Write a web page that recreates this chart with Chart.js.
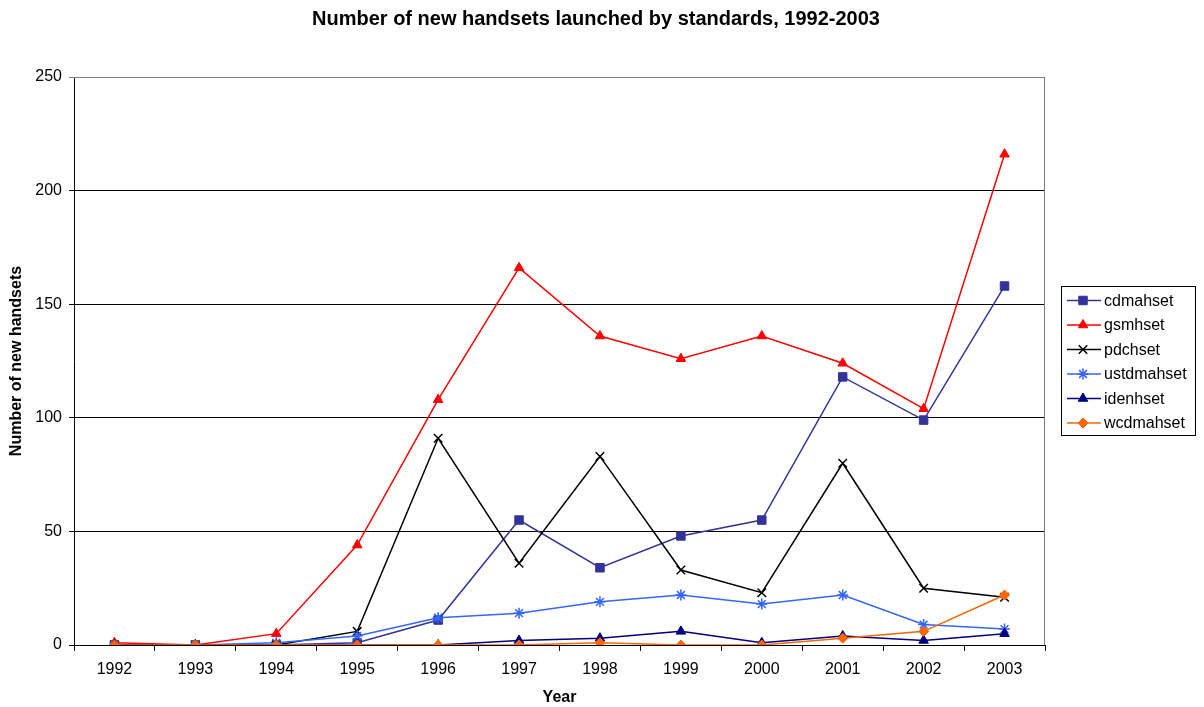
<!DOCTYPE html>
<html>
<head>
<meta charset="utf-8">
<script src="https://cdn.jsdelivr.net/npm/chart.js@4.4.1/dist/chart.umd.min.js"></script>
<style>
  html, body { margin: 0; padding: 0; background: #fff; }
  #wrap { width: 1204px; height: 707px; }
</style>
</head>
<body>
<div id="wrap"><canvas id="chart" width="1204" height="707"></canvas></div>
<script>
// ---- data ----
const years = ['1992','1993','1994','1995','1996','1997','1998','1999','2000','2001','2002','2003'];
const cdmahset   = [0, 0, 0, 1, 11, 55, 34, 48, 55, 118, 99, 158];
const gsmhset    = [1, 0, 5, 44, 108, 166, 136, 126, 136, 124, 104, 216];
const pdchset    = [0, 0, 0, 6, 91, 36, 83, 33, 23, 80, 25, 21];
const ustdmahset = [0, 0, 1, 4, 12, 14, 19, 22, 18, 22, 9, 7];
const idenhset   = [0, 0, 0, 0, 0, 2, 3, 6, 1, 4, 2, 5];
const wcdmahset  = [0, 0, 0, 0, 0, 0, 1, 0, 0, 3, 6, 22];
const yTicks = [0, 50, 100, 150, 200, 250];

const FONT = 'Arial, "Liberation Sans", sans-serif';

function series(label, data, color, style, radius, order) {
    return {
        label: label,
        data: data,
        borderColor: color,
        backgroundColor: color,
        pointBackgroundColor: color,
        pointBorderColor: color,
        pointStyle: style,
        pointRadius: radius,
        pointHoverRadius: radius,
        pointBorderWidth: style === 'crossRot' || style === 'star' ? 1.5 : 1,
        borderWidth: 1.5,
        tension: 0,
        order: order
    };
}

const datasets = [
    series('cdmahset',   cdmahset,   '#333399', 'rect',     6,   6),
    series('gsmhset',    gsmhset,    '#FF0000', 'triangle', 5.5, 5),
    series('pdchset',    pdchset,    '#000000', 'crossRot', 6,   4),
    series('ustdmahset', ustdmahset, '#3366FF', 'star',     5.5, 3),
    series('idenhset',   idenhset,   '#000080', 'triangle', 5.5, 2),
    series('wcdmahset',  wcdmahset,  '#FF6600', 'rectRot',  5,   1)
];

// title, plot frame and the Excel-style legend
const decorations = {
    id: 'decorations',
    afterDraw(chart) {
        const ctx = chart.ctx;
        const a = chart.chartArea;
        ctx.save();
        // frame round the plot (top and right in gray)
        ctx.strokeStyle = '#808080';
        ctx.lineWidth = 1;
        ctx.beginPath();
        ctx.moveTo(a.left, a.top + 0.5);
        ctx.lineTo(a.right - 0.5, a.top + 0.5);
        ctx.lineTo(a.right - 0.5, a.bottom);
        ctx.stroke();

        // title
        ctx.fillStyle = '#000';
        ctx.font = 'bold 20px ' + FONT;
        ctx.textAlign = 'center';
        ctx.textBaseline = 'middle';
        ctx.fillText('Number of new handsets launched by standards, 1992-2003', 596, 19);

        // legend
        const lx = 1061, ly = 286, lw = 134, lh = 149;
        ctx.fillStyle = '#fff';
        ctx.fillRect(lx, ly, lw, lh);
        ctx.strokeStyle = '#000';
        ctx.lineWidth = 1;
        ctx.strokeRect(lx + 0.5, ly + 0.5, lw, lh);
        ctx.font = '16px ' + FONT;
        ctx.textAlign = 'left';
        chart.data.datasets.forEach((ds, i) => {
            const y = ly + 14.5 + i * 24.5;
            ctx.strokeStyle = ds.borderColor;
            ctx.lineWidth = 1.5;
            ctx.beginPath();
            ctx.moveTo(lx + 6, y);
            ctx.lineTo(lx + 40, y);
            ctx.stroke();
            ctx.fillStyle = ds.pointBackgroundColor;
            ctx.strokeStyle = ds.pointBorderColor;
            ctx.lineWidth = ds.pointBorderWidth;
            Chart.helpers.drawPoint(ctx, {
                pointStyle: ds.pointStyle,
                radius: ds.pointRadius,
                borderWidth: ds.pointBorderWidth,
                rotation: 0
            }, lx + 22, y);
            ctx.fillStyle = '#000';
            ctx.fillText(ds.label, lx + 43, y + 1);
        });
        ctx.restore();
    }
};

new Chart(document.getElementById('chart'), {
    type: 'line',
    data: { labels: years, datasets: datasets },
    options: {
        responsive: false,
        animation: false,
        devicePixelRatio: 1,
        layout: { padding: { top: 77, right: 159, left: 0, bottom: 0 } },
        plugins: {
            legend: { display: false },
            title: { display: false },
            tooltip: { enabled: false }
        },
        scales: {
            x: {
                offset: true,
                afterFit(scale) { scale.height = 62; },
                grid: {
                    offset: true,
                    drawOnChartArea: false,
                    drawTicks: true,
                    tickLength: 6,
                    color: '#000'
                },
                border: { color: '#000', width: 1 },
                ticks: { color: '#000', font: { family: FONT, size: 16 }, padding: 9, maxRotation: 0 },
                title: {
                    display: true,
                    text: 'Year',
                    color: '#000',
                    font: { family: FONT, size: 16, weight: 'bold' },
                    padding: { top: 6, bottom: 0 }
                }
            },
            y: {
                min: 0,
                max: 250,
                afterFit(scale) { scale.width = 74; },
                afterBuildTicks(scale) { scale.ticks = yTicks.map(v => ({ value: v })); },
                grid: {
                    drawTicks: true,
                    tickLength: 5,
                    color: ctx => (ctx.tick && (ctx.tick.value === 250) ? '#808080' : '#000'),
                    lineWidth: 1
                },
                border: { color: '#000', width: 1 },
                ticks: { color: '#000', font: { family: FONT, size: 16 }, padding: 7 },
                title: {
                    display: true,
                    text: 'Number of new handsets',
                    color: '#000',
                    font: { family: FONT, size: 16, weight: 'bold' },
                    padding: { top: 7, bottom: 6 }
                }
            }
        }
    },
    plugins: [decorations]
});
</script>
</body>
</html>
